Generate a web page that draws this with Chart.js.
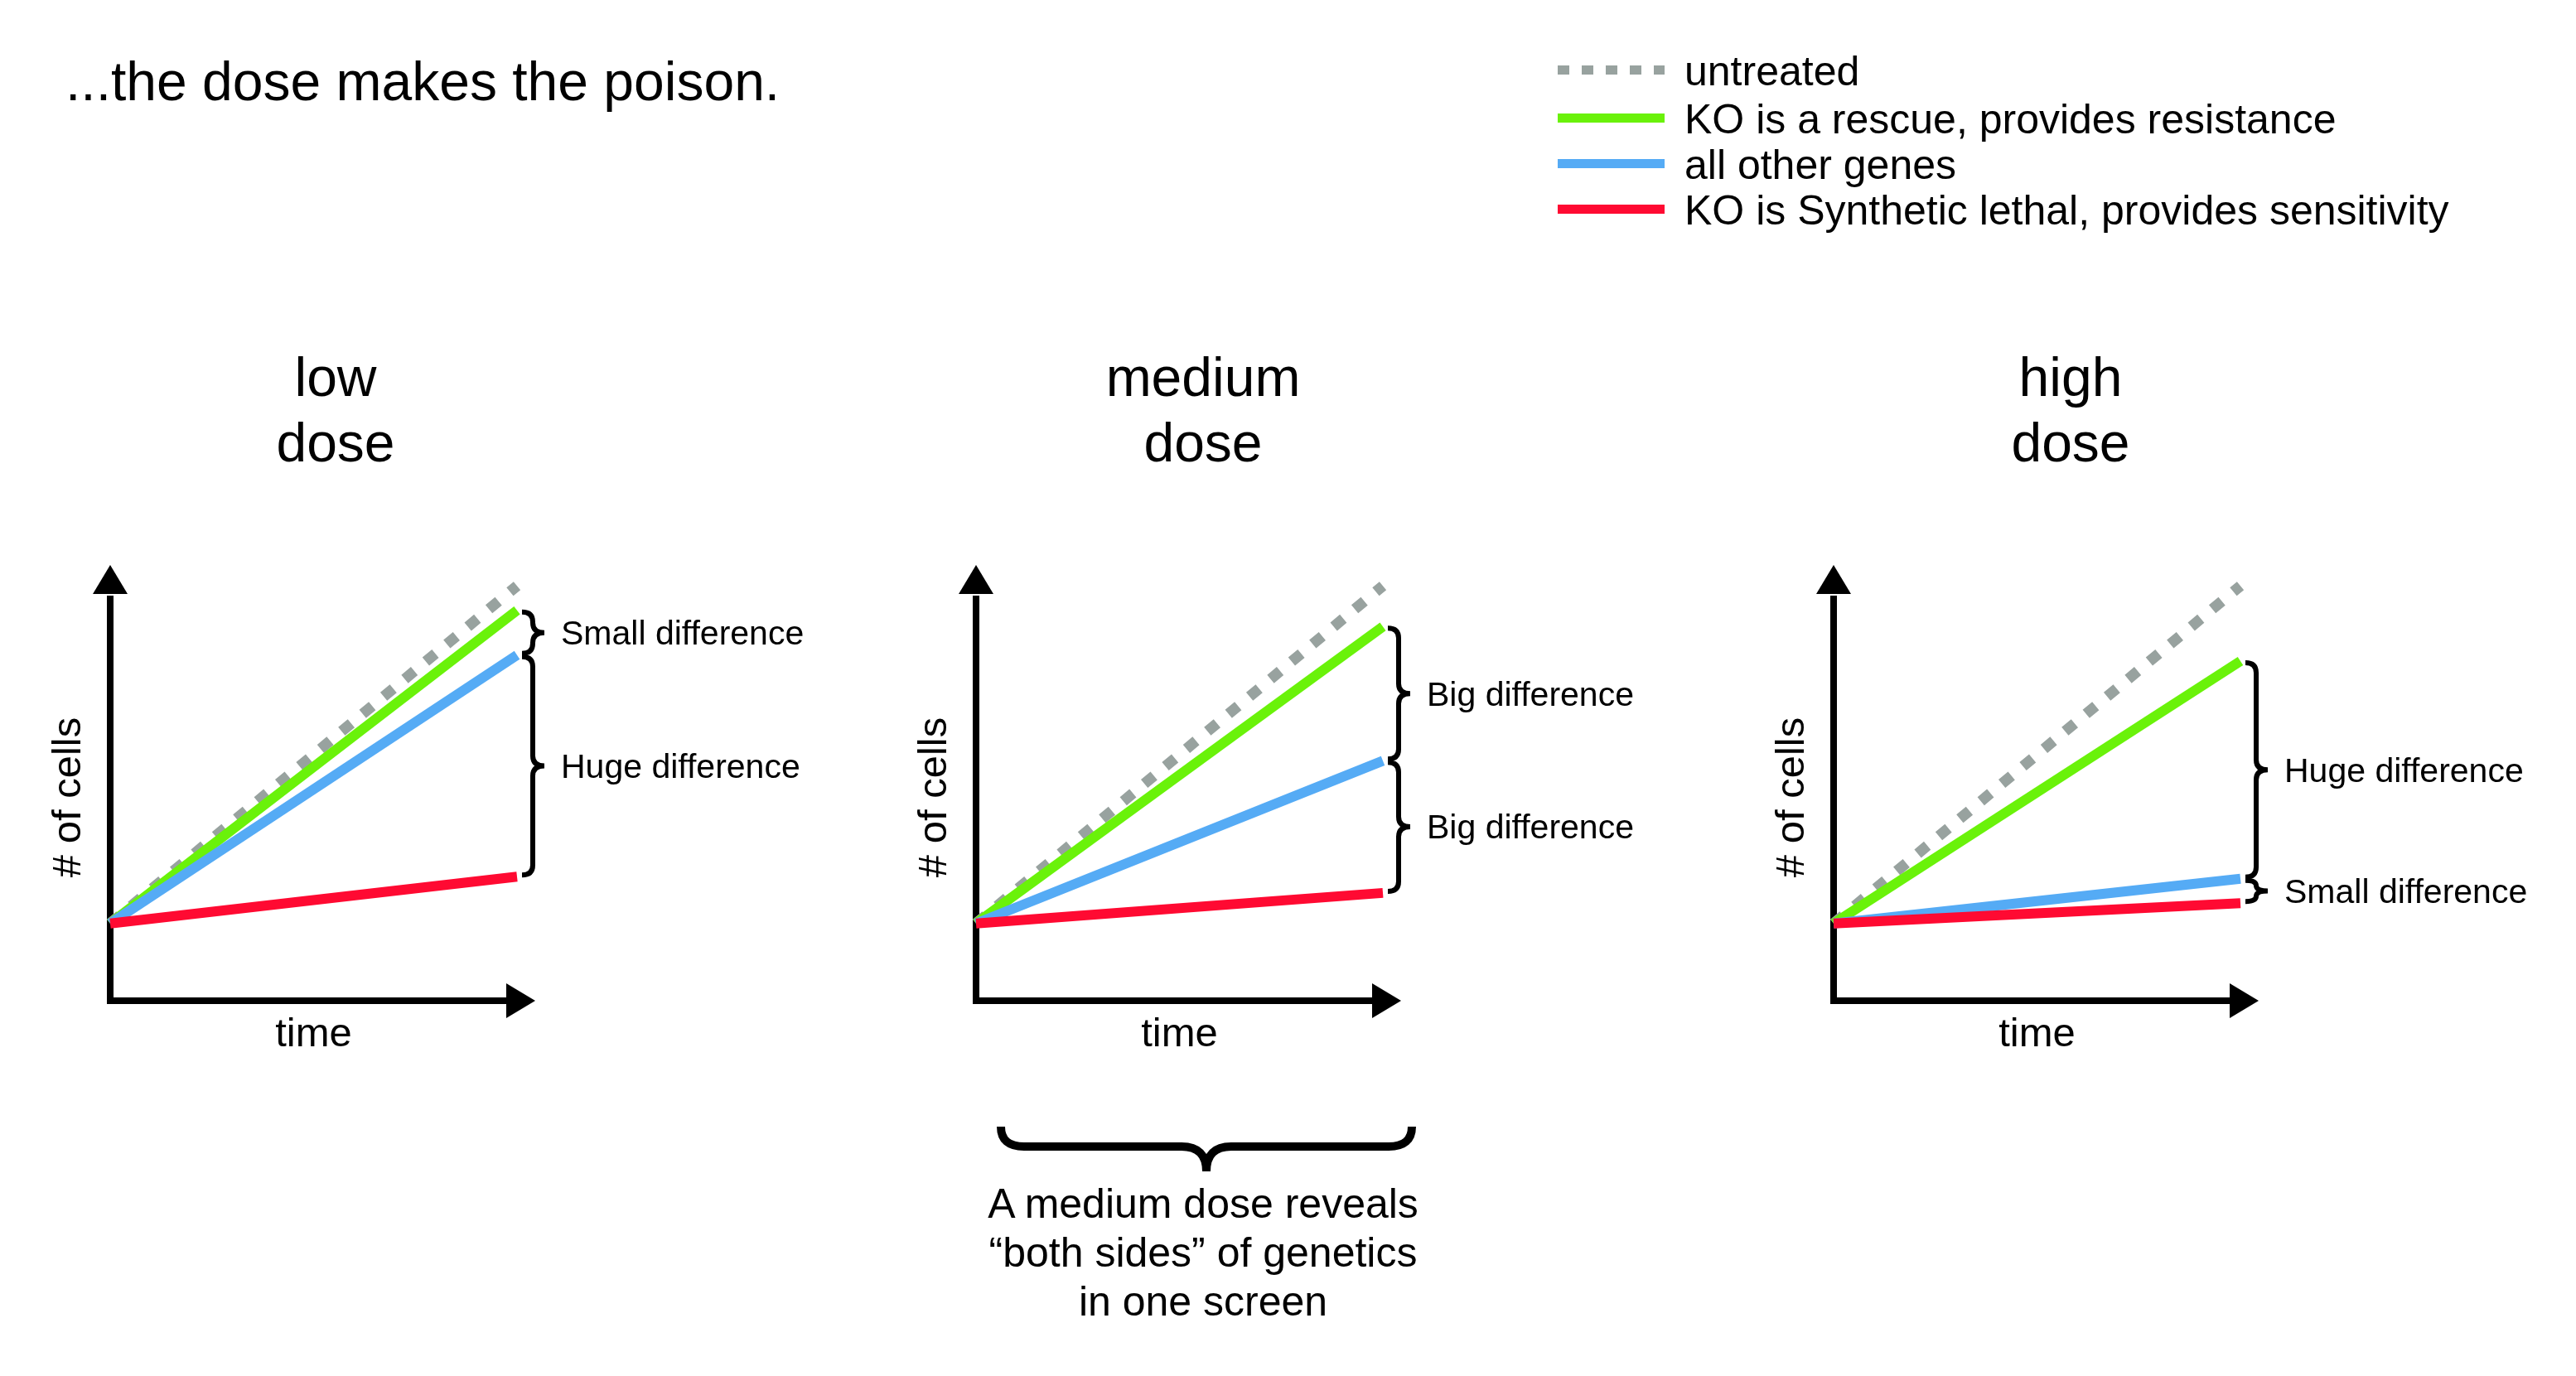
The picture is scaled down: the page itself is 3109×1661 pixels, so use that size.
<!DOCTYPE html>
<html><head><meta charset="utf-8">
<script src="https://cdn.jsdelivr.net/npm/chart.js@4"></script>
<style>
html,body{margin:0;padding:0;background:#fff;width:3109px;height:1661px;overflow:hidden;font-family:'Liberation Sans',Arial,Helvetica,sans-serif;color:#000}
.abs{position:absolute;white-space:nowrap}
canvas{position:absolute}
</style></head><body>
<div class="abs" style="left:79px;top:65px;font-size:66px;line-height:66px">...the dose makes the poison.</div>
<div id="legend"></div>
<div id="titles"></div>
<canvas id="c0" width="1000" height="700" style="left:13px;top:600px"></canvas>
<canvas id="c1" width="1000" height="700" style="left:1058px;top:600px"></canvas>
<canvas id="c2" width="1000" height="700" style="left:2093px;top:600px"></canvas>
<svg class="abs" style="left:0;top:0" width="3109" height="1661">
  <path d="M1208,1360 Q1208,1384 1236,1384 L1426,1384 Q1456,1384 1456,1414 Q1456,1384 1486,1384 L1676,1384 Q1704,1384 1704,1360" fill="none" stroke="#000" stroke-width="10"/>
</svg>
<div class="abs" style="left:1452px;top:1424px;transform:translateX(-50%);text-align:center;font-size:50px;line-height:59px">A medium dose reveals<br>“both sides” of genetics<br>in one screen</div>
<script>
// ---- data ----
const times = [0, 1];
const doses = ['low', 'medium', 'high'];
const seriesNames = ['untreated', 'KO is a rescue, provides resistance', 'all other genes', 'KO is Synthetic lethal, provides sensitivity'];
const untreated = [19, 102];
const lowRescue = [19, 96];
const lowOther = [19, 85];
const lowLethal = [19, 30.5];
const mediumRescue = [19, 92];
const mediumOther = [19, 59];
const mediumLethal = [19, 26.5];
const highRescue = [19, 83.5];
const highOther = [19, 30];
const highLethal = [19, 24];
// brace notes: [upper series index, lower series index, label]
const lowNotes = [[1, 2, 'Small difference'], [2, 3, 'Huge difference']];
const mediumNotes = [[1, 2, 'Big difference'], [2, 3, 'Big difference']];
const highNotes = [[1, 2, 'Huge difference'], [2, 3, 'Small difference']];

// ---- styles ----
const seriesColors = ['#98a29f', '#6af20a', '#55abf5', '#ff0a32'];
const FONT = "'Liberation Sans', Arial, Helvetica, sans-serif";
Chart.defaults.font.family = FONT;
Chart.defaults.color = '#000';

// legend (HTML)
const legendTops = [103, 161, 216, 271];
const lg = document.getElementById('legend');
seriesNames.forEach((name, i) => {
  const b = legendTops[i];
  const sw = document.createElement('div');
  sw.className = 'abs';
  sw.style.cssText = `left:1880px;top:${b - 19 - 5.5}px;width:129px;height:11px;` +
    (i === 0 ? `background:repeating-linear-gradient(to right, ${seriesColors[0]} 0 14px, transparent 14px 29px);` : `background:${seriesColors[i]};`);
  lg.appendChild(sw);
  const t = document.createElement('div');
  t.className = 'abs';
  t.style.cssText = `left:2033px;top:${b - 42.3}px;font-size:50px;line-height:50px;`;
  t.textContent = name;
  lg.appendChild(t);
});

// panel titles (HTML)
const titleCenters = [405, 1452, 2499];
const tt = document.getElementById('titles');
doses.forEach((d, i) => {
  const el = document.createElement('div');
  el.className = 'abs';
  el.style.cssText = `left:${titleCenters[i]}px;top:415.6px;transform:translateX(-50%);text-align:center;font-size:66px;line-height:79px;`;
  el.innerHTML = d + '<br>dose';
  tt.appendChild(el);
});

function makeDecor(notes, series) {
  return {
    id: 'decor',
    beforeDatasetsDraw(chart) {
      const {ctx, chartArea: a} = chart;
      ctx.save();
      ctx.fillStyle = '#000'; ctx.strokeStyle = '#000'; ctx.lineWidth = 8; ctx.lineCap = 'butt';
      ctx.beginPath(); ctx.moveTo(a.left, a.bottom + 4); ctx.lineTo(a.left, a.top + 2); ctx.stroke();
      ctx.beginPath(); ctx.moveTo(a.left - 4, a.bottom); ctx.lineTo(a.right - 11, a.bottom); ctx.stroke();
      ctx.beginPath(); ctx.moveTo(a.left - 21, a.top); ctx.lineTo(a.left + 21, a.top); ctx.lineTo(a.left, a.top - 35); ctx.closePath(); ctx.fill();
      ctx.beginPath(); ctx.moveTo(a.right - 13, a.bottom - 21); ctx.lineTo(a.right - 13, a.bottom + 21); ctx.lineTo(a.right + 22, a.bottom); ctx.closePath(); ctx.fill();
      ctx.restore();
    },
    afterDatasetsDraw(chart) {
      const {ctx} = chart;
      const xs = chart.scales.x, ys = chart.scales.y;
      const last = times.length - 1;
      const xEnd = xs.getPixelForValue(times[last]);
      ctx.save();
      ctx.strokeStyle = '#000'; ctx.fillStyle = '#000';
      notes.forEach(n => {
        const y1 = ys.getPixelForValue(series[n[0]][last]) + 2;
        const y2 = ys.getPixelForValue(series[n[1]][last]) - 2;
        const ym = (y1 + y2) / 2;
        const x0 = xEnd + 6, xm = xEnd + 19, xp = xEnd + 33;
        const r = Math.min(12, (y2 - y1) / 4);
        ctx.lineWidth = 6;
        ctx.beginPath();
        ctx.moveTo(x0, y1);
        ctx.quadraticCurveTo(xm, y1, xm, y1 + r);
        ctx.lineTo(xm, ym - r);
        ctx.quadraticCurveTo(xm, ym, xp, ym);
        ctx.quadraticCurveTo(xm, ym, xm, ym + r);
        ctx.lineTo(xm, y2 - r);
        ctx.quadraticCurveTo(xm, y2, x0, y2);
        ctx.stroke();
        ctx.font = '41px ' + FONT;
        ctx.textBaseline = 'middle';
        ctx.textAlign = 'left';
        ctx.fillText(n[2], xEnd + 53, ym + 3);
      });
      ctx.restore();
    }
  };
}

function makeChart(id, rescue, other, lethal, notes) {
  const series = [untreated, rescue, other, lethal];
  new Chart(document.getElementById(id), {
    type: 'line',
    data: {
      datasets: series.map((vals, i) => ({
        label: seriesNames[i],
        data: times.map((t, j) => ({x: t, y: vals[j]})),
        borderColor: seriesColors[i],
        backgroundColor: seriesColors[i],
        borderWidth: i === 0 ? 13 : 12,
        borderDash: i === 0 ? [15, 18] : [],
        borderCapStyle: 'butt',
        pointRadius: 0,
        fill: false,
        tension: 0,
        clip: false,
        order: 4 - i
      }))
    },
    options: {
      responsive: false,
      animation: false,
      devicePixelRatio: 1,
      events: [],
      layout: {padding: {left: 45.5, top: 117, right: 389, bottom: 26.5}},
      plugins: {legend: {display: false}, tooltip: {enabled: false}},
      scales: {
        x: {type: 'linear', min: 0, max: 1,
            ticks: {display: false}, grid: {display: false, drawTicks: false}, border: {display: false},
            title: {display: true, text: 'time', color: '#000', font: {size: 49, lineHeight: 1}, padding: {top: 16.5, bottom: 0}}},
        y: {type: 'linear', min: 0, max: 100,
            ticks: {display: false}, grid: {display: false, drawTicks: false}, border: {display: false},
            title: {display: true, text: '# of cells', color: '#000', font: {size: 49, lineHeight: 1}, padding: {top: 0, bottom: 25.5}}}
      }
    },
    plugins: [makeDecor(notes, series)]
  });
}

makeChart('c0', lowRescue, lowOther, lowLethal, lowNotes);
makeChart('c1', mediumRescue, mediumOther, mediumLethal, mediumNotes);
makeChart('c2', highRescue, highOther, highLethal, highNotes);
</script>
</body></html>
